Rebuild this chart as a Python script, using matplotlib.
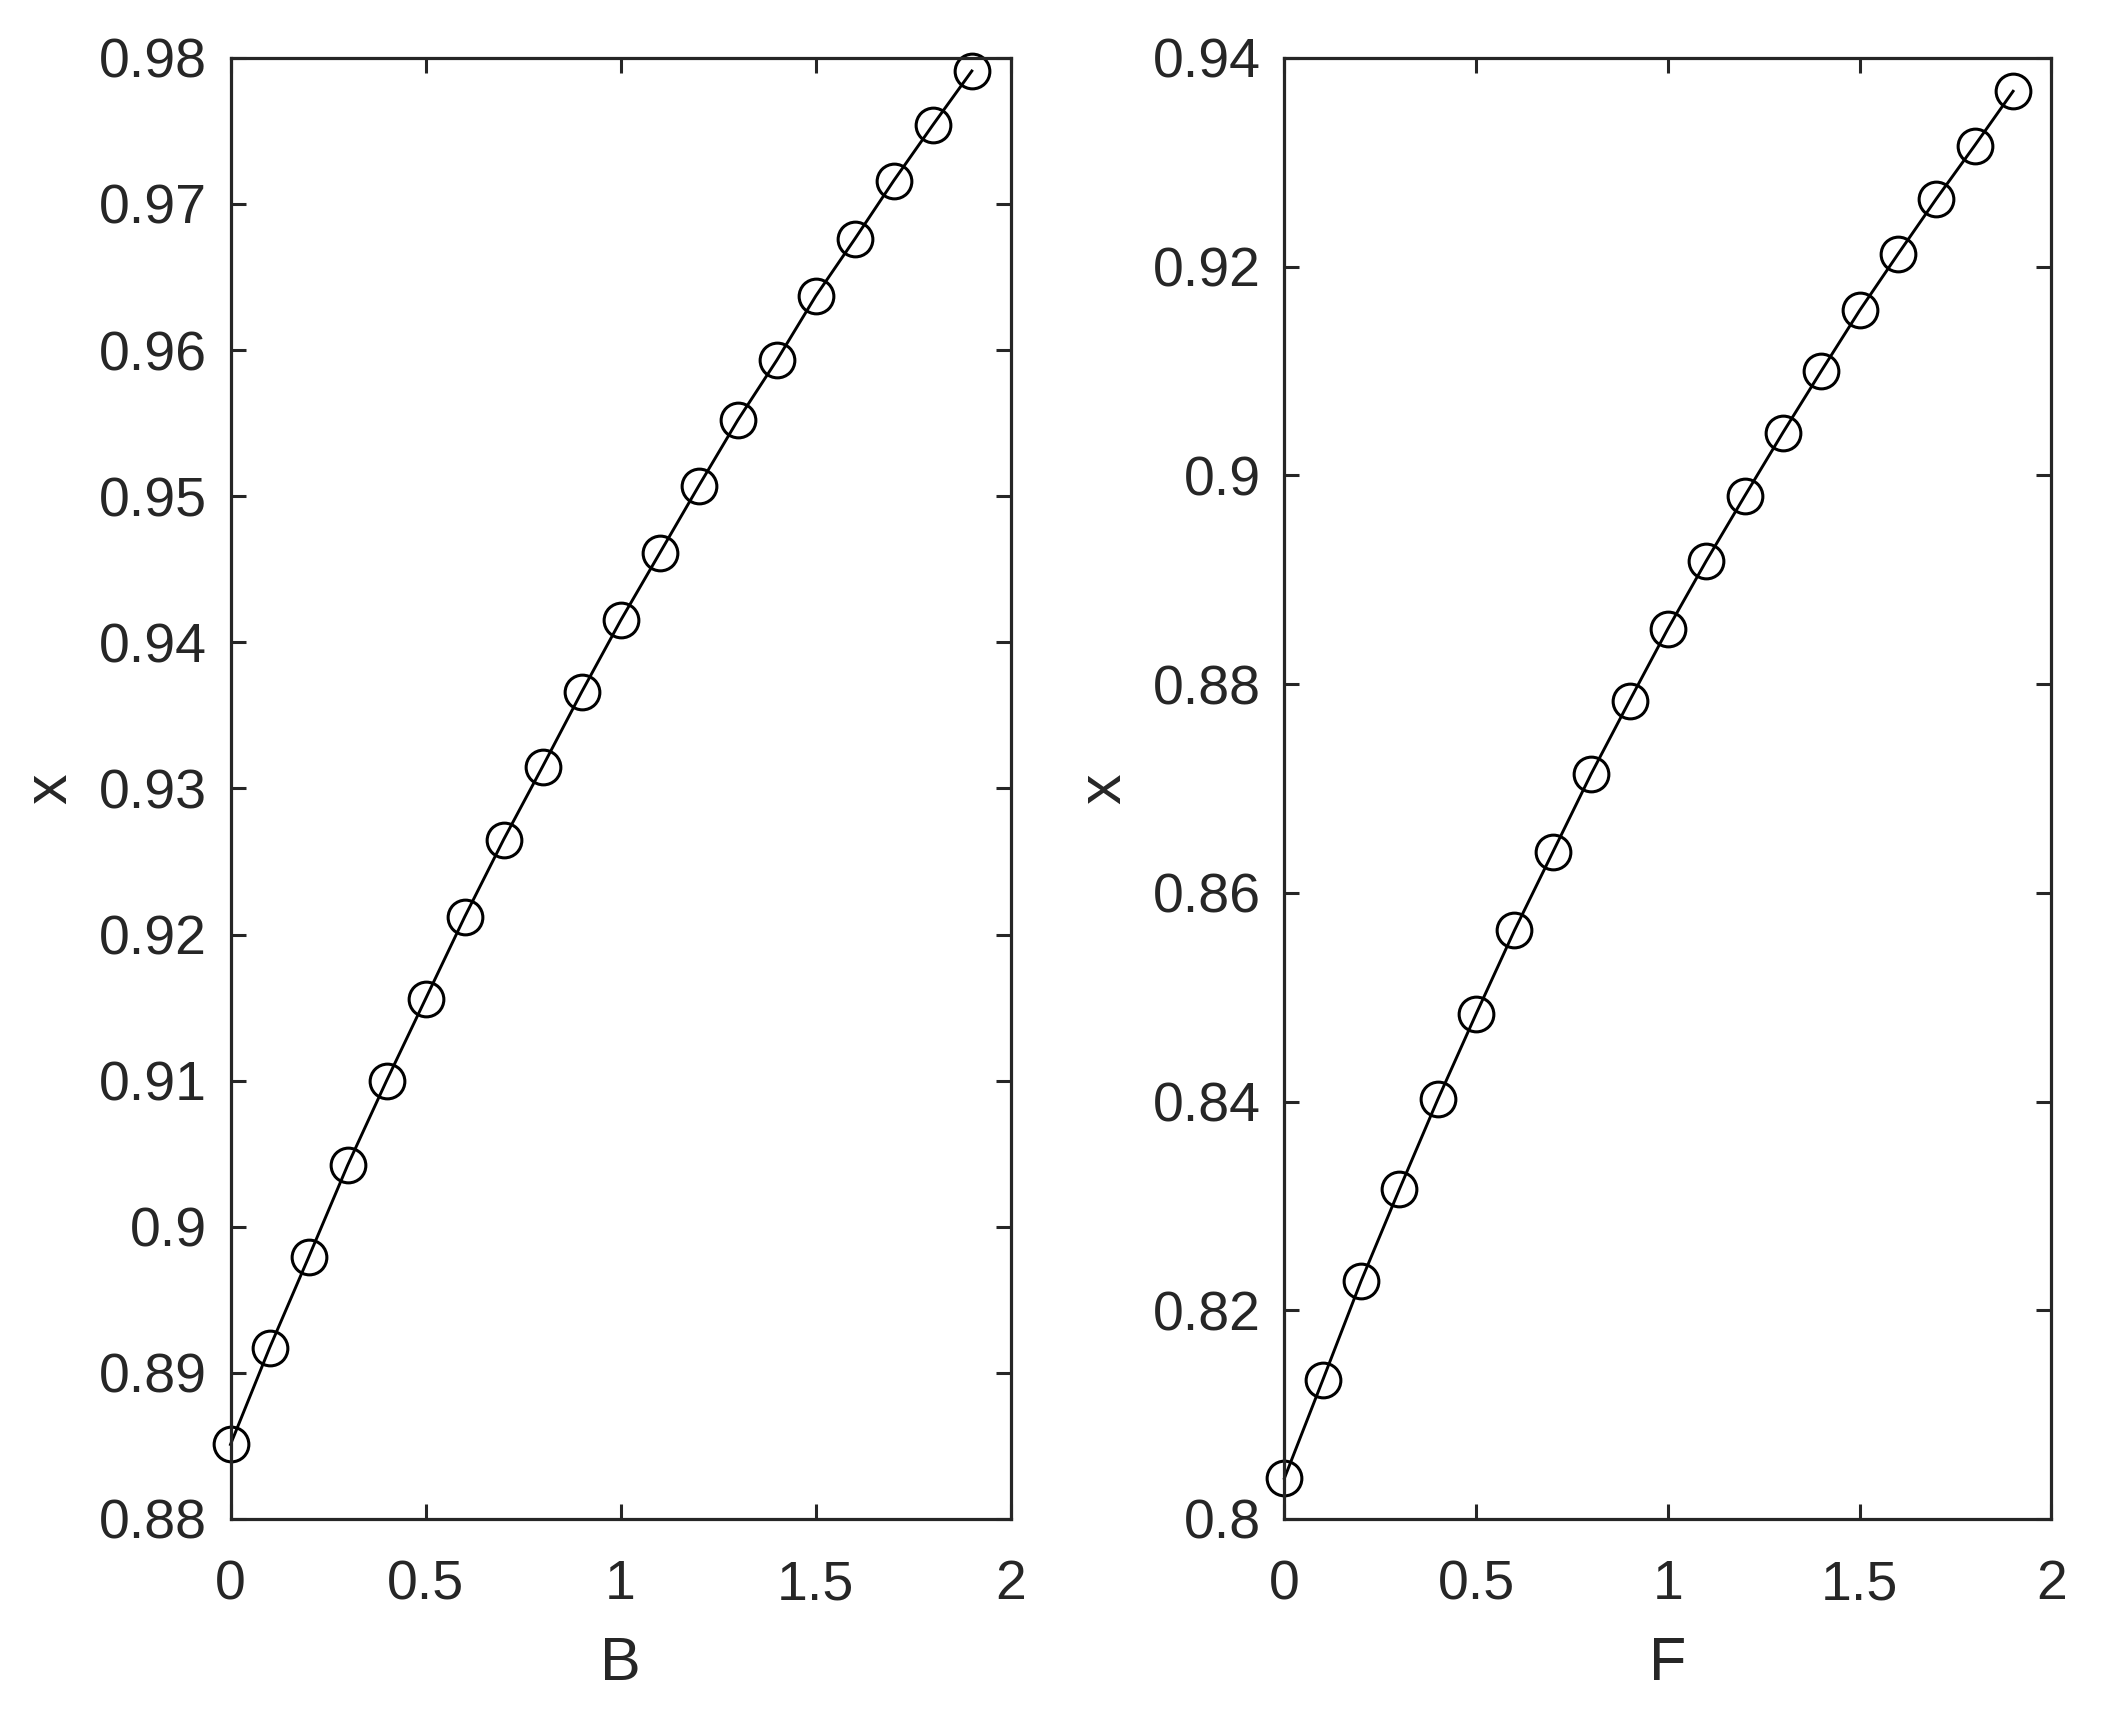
import matplotlib
matplotlib.use("Agg")
import matplotlib.pyplot as plt
import numpy as np

B_vals = np.arange(20) / 10
x_B = [0.8851, 0.8917, 0.8979, 0.9042, 0.9100, 0.9156, 0.9212, 0.9265,
       0.9315, 0.9366, 0.9415, 0.9461, 0.9507, 0.9552, 0.9593, 0.9637,
       0.9676, 0.9716, 0.9754, 0.9791]

F_vals = np.arange(20) / 10
x_F = [0.8039, 0.8133, 0.8228, 0.8316, 0.8402, 0.8484, 0.8564, 0.8639,
       0.8714, 0.8784, 0.8853, 0.8918, 0.8980, 0.9041, 0.9100, 0.9158,
       0.9212, 0.9265, 0.9316, 0.9368]

x_ticks = [0, 0.5, 1, 1.5, 2]
yticks_B = np.arange(88, 99) / 100
yticks_F = np.arange(40, 48) / 50

plt.rcParams["font.family"] = ["Liberation Sans", "DejaVu Sans"]

fig = plt.figure(figsize=(21.09, 17.22), dpi=100)
ax1 = fig.add_axes([0.1093, 0.1179, 0.370, 0.8485])
ax2 = fig.add_axes([0.609, 0.1179, 0.3637, 0.8485])

DARK = "#262626"


def style(ax, xs, ys, yticks, ylim, xlabel):
    ax.plot(xs, ys, color="black", linewidth=2.1, marker="o", markersize=25,
            markerfacecolor="none", markeredgecolor="black",
            markeredgewidth=2.2, clip_on=False)
    ax.set_xlim(0, 2)
    ax.set_ylim(*ylim)
    ax.set_xticks(x_ticks)
    ax.set_xticklabels([f"{t:g}" for t in x_ticks])
    ax.set_yticks(yticks)
    ax.set_yticklabels([f"{t:g}" for t in yticks])
    ax.tick_params(direction="in", top=True, right=True, length=11,
                   width=2.2, labelsize=40, colors=DARK)
    ax.tick_params(axis="x", pad=29)
    ax.tick_params(axis="y", pad=17)
    for sp in ax.spines.values():
        sp.set_linewidth(2.3)
        sp.set_color(DARK)
    ax.set_xlabel(xlabel, fontsize=44, color=DARK, labelpad=18)
    ax.set_ylabel("x", fontsize=44, color=DARK, labelpad=14)


style(ax1, B_vals, x_B, yticks_B, (0.88, 0.98), "B")
style(ax2, F_vals, x_F, yticks_F, (0.80, 0.94), "F")

fig.savefig("out.png", dpi=100)
